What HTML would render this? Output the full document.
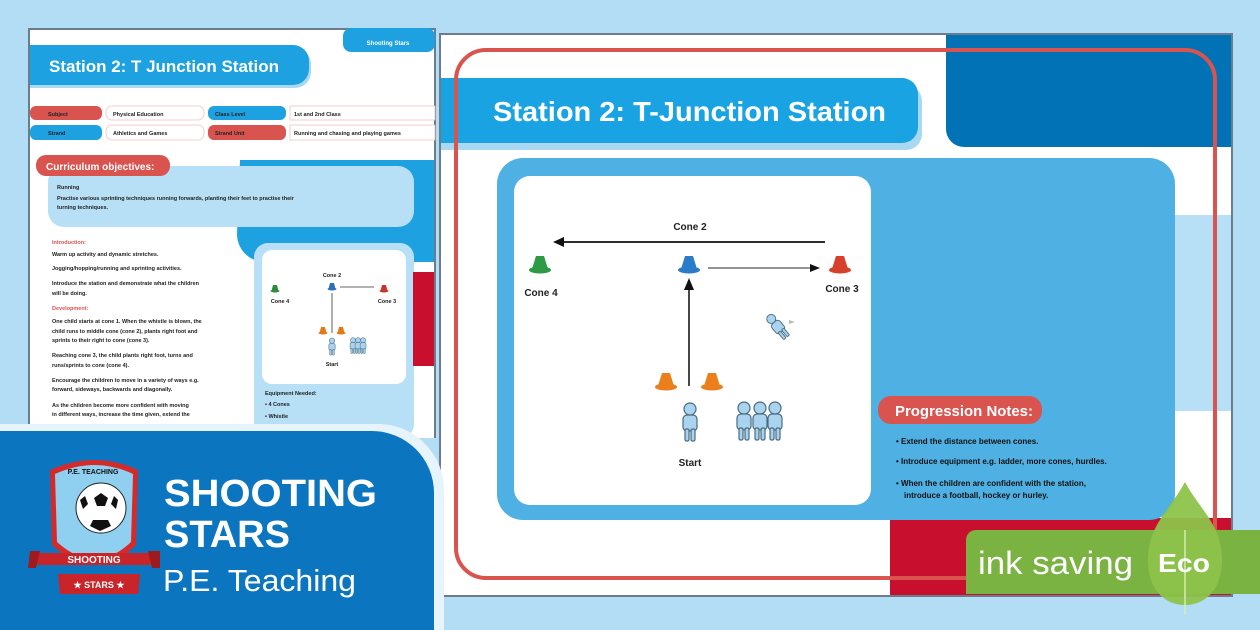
<!DOCTYPE html>
<html><head><meta charset="utf-8"><style>
html,body{margin:0;padding:0;width:1260px;height:630px;overflow:hidden;background:#b3dcf5}
svg{display:block}
text{font-family:"Liberation Sans",sans-serif}
</style></head><body>
<svg width="1260" height="630" viewBox="0 0 1260 630" xmlns="http://www.w3.org/2000/svg">
<defs>
<g id="cone"><path d="M-4,-17 L4,-17 L8,-4 L-8,-4 Z"/><ellipse cx="0" cy="-3" rx="11" ry="3.5"/></g>
<g id="kid" fill="#a9d3ee" stroke="#4a6b80" stroke-width="1.2"><circle cx="0" cy="-14" r="6"/><rect x="-7" y="-8" width="14" height="16" rx="4"/><rect x="-5" y="6" width="4" height="12" rx="1.5"/><rect x="1" y="6" width="4" height="12" rx="1.5"/></g>
<g id="sc"><path d="M-2,-7 L2,-7 L3.5,-1 L-3.5,-1 Z"/><ellipse cx="0" cy="-1" rx="4.5" ry="1.5"/></g>
</defs>

<!-- LEFT PAGE -->
<rect x="28" y="28" width="408" height="410" fill="#6b7d8a"/>
<rect x="30" y="30" width="404" height="408" fill="#fff"/>
<rect x="343" y="28" width="92" height="24" rx="8" fill="#1da1e0"/>
<text x="388" y="45" font-size="6" font-weight="bold" fill="#fff" text-anchor="middle">Shooting Stars</text>
<path d="M30,48 H295 a16,16 0 0 1 16,16 v8 a16,16 0 0 1 -16,16 H30 Z" fill="#a8d8f2"/>
<path d="M30,45 H293 a16,16 0 0 1 16,16 v8 a16,16 0 0 1 -16,16 H30 Z" fill="#1da1e0"/>
<text x="49" y="72" font-size="17" font-weight="bold" fill="#fff" textLength="230" lengthAdjust="spacingAndGlyphs">Station 2:  T Junction Station</text>
<rect x="30" y="106" width="72" height="14" rx="6" fill="#d9534f"/>
<rect x="106" y="106" width="98" height="14" rx="6" fill="#fff" stroke="#f0c0c0" stroke-width="0.8"/>
<rect x="208" y="106" width="78" height="14" rx="6" fill="#1da1e0"/>
<rect x="290" y="106" width="145" height="14" fill="#fff" stroke="#f0c0c0" stroke-width="0.8"/>
<rect x="30" y="125" width="72" height="15" rx="6" fill="#1da1e0"/>
<rect x="106" y="125" width="98" height="15" rx="6" fill="#fff" stroke="#f0c0c0" stroke-width="0.8"/>
<rect x="208" y="125" width="78" height="15" rx="6" fill="#d9534f"/>
<rect x="290" y="125" width="145" height="15" fill="#fff" stroke="#f0c0c0" stroke-width="0.8"/>
<g font-size="5.5" font-weight="bold" fill="#222">
<text x="48" y="116">Subject</text><text x="113" y="116">Physical Education</text><text x="215" y="116">Class Level</text><text x="294" y="116">1st and 2nd Class</text>
<text x="48" y="135">Strand</text><text x="113" y="135">Athletics and Games</text><text x="215" y="135">Strand Unit</text><text x="294" y="135">Running and chasing and playing games</text>
</g>
<path d="M240,160 H434 V262 H265 a28,28 0 0 1 -28,-28 Z" fill="#1da1e0"/>
<rect x="48" y="166" width="366" height="61" rx="16" fill="#b7dff6"/>
<rect x="36" y="155" width="134" height="21" rx="10" fill="#d9534f"/>
<text x="46" y="170" font-size="10" font-weight="bold" fill="#fff">Curriculum objectives:</text>
<g font-size="5.5" font-weight="bold" fill="#222">
<text x="57" y="189">Running</text>
<text x="57" y="200">Practise various sprinting techniques running forwards, planting their feet to practise their</text>
<text x="57" y="209">turning techniques.</text>
<text x="52" y="244" fill="#d9534f">Introduction:</text>
<text x="52" y="256">Warm up activity and dynamic stretches.</text>
<text x="52" y="270">Jogging/hopping/running and sprinting activities.</text>
<text x="52" y="285">Introduce the station and demonstrate what the children</text>
<text x="52" y="295">will be doing.</text>
<text x="52" y="310" fill="#d9534f">Development:</text>
<text x="52" y="323">One child starts at cone 1. When the whistle is blown, the</text>
<text x="52" y="333">child runs to middle cone (cone 2), plants right foot and</text>
<text x="52" y="342">sprints to their right to cone (cone 3).</text>
<text x="52" y="357">Reaching cone 3, the child plants right foot, turns and</text>
<text x="52" y="367">runs/sprints to cone (cone 4).</text>
<text x="52" y="382">Encourage the children to move in a variety of ways e.g.</text>
<text x="52" y="391">forward, sideways, backwards and diagonally.</text>
<text x="52" y="407">As the children become more confident with moving</text>
<text x="52" y="416">in different ways, increase the time given, extend the</text>
</g>
<rect x="254" y="243" width="160" height="195" rx="14" fill="#b7dff6"/>
<rect x="262" y="250" width="144" height="134" rx="10" fill="#fff"/>
<rect x="413" y="272" width="21" height="94" fill="#c8102e"/>
<g font-size="5.5" font-weight="bold" fill="#222">
<text x="332" y="277" text-anchor="middle">Cone 2</text><text x="280" y="303" text-anchor="middle">Cone 4</text><text x="387" y="303" text-anchor="middle">Cone 3</text><text x="332" y="366" text-anchor="middle">Start</text>
<text x="265" y="395">Equipment Needed:</text><text x="265" y="406">•  4 Cones</text><text x="265" y="418">•  Whistle</text>
</g>
<line x1="340" y1="287" x2="374" y2="287" stroke="#333" stroke-width="0.8"/>
<line x1="332" y1="333" x2="332" y2="293" stroke="#333" stroke-width="0.8"/>
<use href="#sc" x="275" y="292" fill="#2e8b3a"/><use href="#sc" x="332" y="290" fill="#2a6fb8"/><use href="#sc" x="384" y="292" fill="#c8342e"/>
<use href="#sc" x="323" y="334" fill="#e07b1a"/><use href="#sc" x="341" y="334" fill="#e07b1a"/>
<g transform="translate(332,347) scale(0.45)"><use href="#kid"/></g>
<g transform="translate(353,346) scale(0.42)"><use href="#kid"/><use href="#kid" x="12"/><use href="#kid" x="24"/></g>

<!-- RIGHT PAGE -->
<rect x="439" y="33" width="794" height="564" fill="#6b7d8a"/>
<rect x="441" y="35" width="790" height="560" fill="#fff"/>
<path d="M946,35 H1231 V147 H964 a18,18 0 0 1 -18,-18 Z" fill="#0072b5"/>
<rect x="1170" y="215" width="61" height="196" fill="#b7dff6"/>
<rect x="890" y="518" width="341" height="77" fill="#c8102e"/>
<path d="M441,85 H906 a16,16 0 0 1 16,16 v33 a16,16 0 0 1 -16,16 H441 Z" fill="#a8d8f2"/>
<path d="M441,78 H902 a16,16 0 0 1 16,16 v33 a16,16 0 0 1 -16,16 H441 Z" fill="#1aa3e3"/>
<text x="493" y="121" font-size="28" font-weight="bold" fill="#fff" textLength="393" lengthAdjust="spacingAndGlyphs">Station 2: T-Junction Station</text>
<rect x="497" y="158" width="678" height="362" rx="26" fill="#4fb0e3"/>
<rect x="514" y="176" width="357" height="329" rx="16" fill="#fff"/>
<g font-size="10" font-weight="bold" fill="#222" text-anchor="middle">
<text x="690" y="230">Cone 2</text><text x="541" y="296">Cone 4</text><text x="842" y="292">Cone 3</text><text x="690" y="466">Start</text>
</g>
<line x1="825" y1="242" x2="560" y2="242" stroke="#111" stroke-width="1.8"/>
<path d="M553,242 L564,237 L564,247 Z" fill="#111"/>
<line x1="708" y1="268" x2="812" y2="268" stroke="#555" stroke-width="1.3"/>
<path d="M820,268 L810,264 L810,272 Z" fill="#111"/>
<line x1="689" y1="386" x2="689" y2="286" stroke="#333" stroke-width="1.8"/>
<path d="M689,278 L684,290 L694,290 Z" fill="#111"/>
<use href="#cone" x="540" y="273" fill="#2e9a44"/>
<use href="#cone" x="689" y="273" fill="#2a7cc8"/>
<use href="#cone" x="840" y="273" fill="#d8402e"/>
<use href="#cone" x="666" y="390" fill="#ea7f1c"/>
<use href="#cone" x="712" y="390" fill="#ea7f1c"/>
<use href="#kid" x="690" y="423"/>
<use href="#kid" x="744" y="422"/><use href="#kid" x="760" y="422"/><use href="#kid" x="775" y="422"/>
<g transform="translate(778,327) rotate(-40) scale(0.75)"><use href="#kid"/></g>
<path d="M789,320 l6,2 l-6,2z" fill="#bbb"/>
<rect x="878" y="396" width="164" height="28" rx="13" fill="#d9534f"/>
<text x="895" y="416" font-size="15" font-weight="bold" fill="#fff" textLength="138" lengthAdjust="spacingAndGlyphs">Progression Notes:</text>
<g font-size="8" font-weight="bold" fill="#111">
<text x="896" y="444">•  Extend the distance between cones.</text>
<text x="896" y="464">•  Introduce equipment e.g. ladder, more cones, hurdles.</text>
<text x="896" y="486">•  When the children are confident with the station,</text>
<text x="904" y="498">introduce a football, hockey or hurley.</text>
</g>
<rect x="456" y="50" width="759" height="528" rx="30" fill="none" stroke="#d9534f" stroke-width="4"/>

<!-- ECO -->
<path d="M966,540 a10,10 0 0 1 10,-10 H1260 V594 H966 Z" fill="#7ab342"/>
<path d="M1185,482 C1170,510 1148,525 1148,560 C1148,590 1165,605 1185,605 C1205,605 1222,590 1222,560 C1222,525 1200,510 1185,482 Z" fill="#8dc34a" opacity="0.95"/>
<line x1="1185" y1="530" x2="1185" y2="615" stroke="#d6ecb0" stroke-width="1.5"/>
<text x="978" y="574" font-size="32" fill="#fff" textLength="155" lengthAdjust="spacingAndGlyphs">ink saving</text>
<text x="1158" y="572" font-size="26" font-weight="bold" fill="#fff" textLength="52" lengthAdjust="spacingAndGlyphs">Eco</text>

<!-- BOTTOM LEFT PANEL -->
<path d="M0,424 H378 a66,66 0 0 1 66,66 V630 H0 Z" fill="#e8f4fb"/>
<path d="M0,431 H372 a62,62 0 0 1 62,62 V630 H0 Z" fill="#0c75c0"/>
<!-- badge -->
<path d="M50,470 Q95,450 138,470 L136,545 Q95,585 52,545 Z" fill="#d52a2a"/>
<path d="M55,474 Q95,456 133,474 L131,542 Q95,576 57,542 Z" fill="#8fd0f0"/>
<text x="93" y="474" font-size="7" font-weight="bold" fill="#111" text-anchor="middle">P.E. TEACHING</text>
<circle cx="101" cy="508" r="25" fill="#fff" stroke="#222" stroke-width="1"/>
<path d="M94,498 l7,-5 l7,5 l-3,8 h-8 Z M80,500 l5,-4 l3,8 l-5,5 Z M118,500 l-4,-4 l-3,8 l5,5 Z M93,520 h15 l3,6 l-11,5 l-10,-5 Z" fill="#111"/>
<path d="M34,553 L154,553 L150,565 L38,565 Z" fill="#c8242a"/>
<path d="M30,551 L40,551 L36,568 L28,568 Z M148,551 L160,551 L160,568 L152,568 Z" fill="#9e1a1f"/>
<text x="94" y="563" font-size="10" font-weight="bold" fill="#fff" text-anchor="middle">SHOOTING</text>
<path d="M58,574 L140,574 L138,594 L60,594 Z" fill="#c8242a"/>
<text x="99" y="588" font-size="9" font-weight="bold" fill="#fff" text-anchor="middle">★ STARS ★</text>
<text x="164" y="506" font-size="38" font-weight="bold" fill="#fff" textLength="213" lengthAdjust="spacingAndGlyphs">SHOOTING</text>
<text x="164" y="547" font-size="38" font-weight="bold" fill="#fff">STARS</text>
<text x="163" y="591" font-size="31" fill="#fff" textLength="193" lengthAdjust="spacingAndGlyphs">P.E. Teaching</text>
</svg>
</body></html>
